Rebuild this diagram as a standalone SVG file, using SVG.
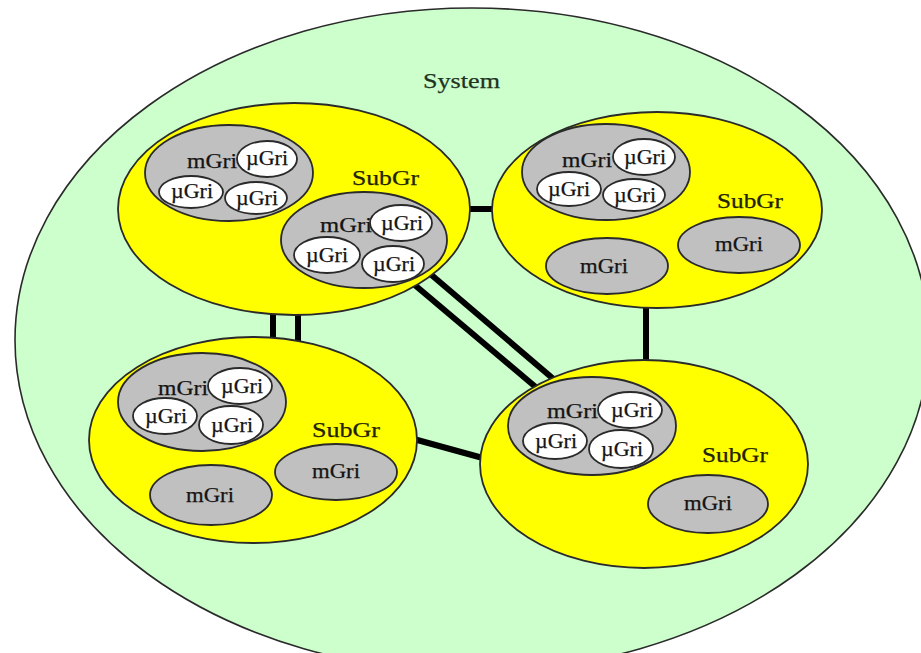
<svg xmlns="http://www.w3.org/2000/svg" width="921" height="653" viewBox="0 0 921 653">
  <style>
    .sys { fill: #ccffcc; stroke: #2a2a2a; stroke-width: 1.6; }
    .sub { fill: #ffff00; stroke: #2a2a2a; stroke-width: 1.8; }
    .mg { fill: #c0c0c0; stroke: #2a2a2a; stroke-width: 1.8; }
    .mu { fill: #ffffff; stroke: #2a2a2a; stroke-width: 1.8; }
    text { font-family: "Liberation Serif", "Times New Roman", serif; fill: #141414; stroke: #141414; stroke-width: 0.25; }
    .t-mg { font-size: 20px; }
    .t-mu { font-size: 20px; text-anchor: middle; }
    .t-sub { font-size: 21px; fill: #222200; stroke: #222200; }
    .t-sys { font-size: 22px; fill: #1f331f; stroke: #1f331f; }
    .link { stroke: #000; stroke-width: 6; fill: none; }
  </style>
  <rect width="921" height="653" fill="#ffffff"/>

  <!-- outer system boundary -->
  <g id="system">
    <ellipse class="sys" cx="472" cy="340" rx="457" ry="332"/>
    <text class="t-sys" x="423" y="88" textLength="77" lengthAdjust="spacingAndGlyphs">System</text>
  </g>

  <!-- links between sub-grids -->
  <g id="connectors">
    <line class="link" x1="462" y1="209" x2="502" y2="209"/>
    <line class="link" x1="273" y1="305" x2="273" y2="345"/>
    <line class="link" x1="298" y1="305" x2="298" y2="345"/>
    <line class="link" x1="410" y1="281" x2="538" y2="389"/>
    <line class="link" x1="428" y1="272" x2="557" y2="382"/>
    <line class="link" x1="646" y1="298" x2="646" y2="368"/>
    <line class="link" x1="410" y1="438" x2="490" y2="460"/>
  </g>

  <!-- sub-grid, top left -->
  <g id="subgrid-tl">
    <ellipse class="sub" cx="294" cy="209" rx="176" ry="106"/>
    <text class="t-sub" x="352" y="185" textLength="67" lengthAdjust="spacingAndGlyphs">SubGr</text>
    <g id="mgrid-tl-1">
      <ellipse class="mg" cx="229" cy="173" rx="84" ry="48"/>
      <text class="t-mg" x="187" y="168" textLength="50" lengthAdjust="spacingAndGlyphs">mGri</text>
      <ellipse class="mu" cx="267" cy="159" rx="30" ry="18"/>
      <text class="t-mu" x="267" y="165" textLength="42" lengthAdjust="spacingAndGlyphs">µGri</text>
      <ellipse class="mu" cx="191" cy="192" rx="32" ry="16"/>
      <text class="t-mu" x="192" y="198" textLength="42" lengthAdjust="spacingAndGlyphs">µGri</text>
      <ellipse class="mu" cx="256" cy="198" rx="31" ry="16"/>
      <text class="t-mu" x="257" y="205" textLength="42" lengthAdjust="spacingAndGlyphs">µGri</text>
    </g>
    <g id="mgrid-tl-2">
      <ellipse class="mg" cx="364" cy="240" rx="83" ry="48"/>
      <text class="t-mg" x="320" y="232" textLength="52" lengthAdjust="spacingAndGlyphs">mGri</text>
      <ellipse class="mu" cx="401" cy="223" rx="31" ry="18"/>
      <text class="t-mu" x="402" y="230" textLength="42" lengthAdjust="spacingAndGlyphs">µGri</text>
      <ellipse class="mu" cx="327" cy="255" rx="33" ry="18"/>
      <text class="t-mu" x="327" y="262" textLength="42" lengthAdjust="spacingAndGlyphs">µGri</text>
      <ellipse class="mu" cx="393" cy="264" rx="31" ry="18"/>
      <text class="t-mu" x="394" y="271" textLength="42" lengthAdjust="spacingAndGlyphs">µGri</text>
    </g>
  </g>

  <!-- sub-grid, top right -->
  <g id="subgrid-tr">
    <ellipse class="sub" cx="657" cy="210" rx="165" ry="98"/>
    <text class="t-sub" x="717" y="208" textLength="66" lengthAdjust="spacingAndGlyphs">SubGr</text>
    <g id="mgrid-tr-1">
      <ellipse class="mg" cx="606" cy="172" rx="84" ry="48"/>
      <text class="t-mg" x="562" y="167" textLength="50" lengthAdjust="spacingAndGlyphs">mGri</text>
      <ellipse class="mu" cx="644" cy="157" rx="31" ry="18"/>
      <text class="t-mu" x="645" y="164" textLength="42" lengthAdjust="spacingAndGlyphs">µGri</text>
      <ellipse class="mu" cx="569" cy="189" rx="32" ry="17"/>
      <text class="t-mu" x="569" y="196" textLength="42" lengthAdjust="spacingAndGlyphs">µGri</text>
      <ellipse class="mu" cx="634" cy="195" rx="31" ry="16"/>
      <text class="t-mu" x="635" y="202" textLength="42" lengthAdjust="spacingAndGlyphs">µGri</text>
    </g>
    <g id="mgrid-tr-2">
      <ellipse class="mg" cx="607" cy="266" rx="61" ry="28"/>
      <text class="t-mg" x="580" y="273" textLength="48" lengthAdjust="spacingAndGlyphs">mGri</text>
    </g>
    <g id="mgrid-tr-3">
      <ellipse class="mg" cx="739" cy="245" rx="61" ry="28"/>
      <text class="t-mg" x="715" y="251" textLength="48" lengthAdjust="spacingAndGlyphs">mGri</text>
    </g>
  </g>

  <!-- sub-grid, bottom left -->
  <g id="subgrid-bl">
    <ellipse class="sub" cx="253" cy="440" rx="164" ry="103"/>
    <text class="t-sub" x="312" y="437" textLength="68" lengthAdjust="spacingAndGlyphs">SubGr</text>
    <g id="mgrid-bl-1">
      <ellipse class="mg" cx="202" cy="402" rx="84" ry="49"/>
      <text class="t-mg" x="158" y="395" textLength="50" lengthAdjust="spacingAndGlyphs">mGri</text>
      <ellipse class="mu" cx="240" cy="386" rx="32" ry="18"/>
      <text class="t-mu" x="242" y="393" textLength="42" lengthAdjust="spacingAndGlyphs">µGri</text>
      <ellipse class="mu" cx="165" cy="416" rx="32" ry="18"/>
      <text class="t-mu" x="166" y="423" textLength="42" lengthAdjust="spacingAndGlyphs">µGri</text>
      <ellipse class="mu" cx="231" cy="425" rx="32" ry="19"/>
      <text class="t-mu" x="232" y="432" textLength="42" lengthAdjust="spacingAndGlyphs">µGri</text>
    </g>
    <g id="mgrid-bl-2">
      <ellipse class="mg" cx="211" cy="495" rx="61" ry="30"/>
      <text class="t-mg" x="186" y="502" textLength="48" lengthAdjust="spacingAndGlyphs">mGri</text>
    </g>
    <g id="mgrid-bl-3">
      <ellipse class="mg" cx="336" cy="472" rx="61" ry="28"/>
      <text class="t-mg" x="312" y="478" textLength="48" lengthAdjust="spacingAndGlyphs">mGri</text>
    </g>
  </g>

  <!-- sub-grid, bottom right -->
  <g id="subgrid-br">
    <ellipse class="sub" cx="644" cy="464" rx="164" ry="104"/>
    <text class="t-sub" x="702" y="462" textLength="66" lengthAdjust="spacingAndGlyphs">SubGr</text>
    <g id="mgrid-br-1">
      <ellipse class="mg" cx="592" cy="426" rx="84" ry="49"/>
      <text class="t-mg" x="547" y="418" textLength="51" lengthAdjust="spacingAndGlyphs">mGri</text>
      <ellipse class="mu" cx="630" cy="410" rx="32" ry="18"/>
      <text class="t-mu" x="632" y="417" textLength="42" lengthAdjust="spacingAndGlyphs">µGri</text>
      <ellipse class="mu" cx="555" cy="441" rx="32" ry="18"/>
      <text class="t-mu" x="556" y="448" textLength="42" lengthAdjust="spacingAndGlyphs">µGri</text>
      <ellipse class="mu" cx="621" cy="449" rx="32" ry="19"/>
      <text class="t-mu" x="622" y="456" textLength="42" lengthAdjust="spacingAndGlyphs">µGri</text>
    </g>
    <g id="mgrid-br-2">
      <ellipse class="mg" cx="708" cy="504" rx="60" ry="29"/>
      <text class="t-mg" x="684" y="510" textLength="48" lengthAdjust="spacingAndGlyphs">mGri</text>
    </g>
  </g>
</svg>
